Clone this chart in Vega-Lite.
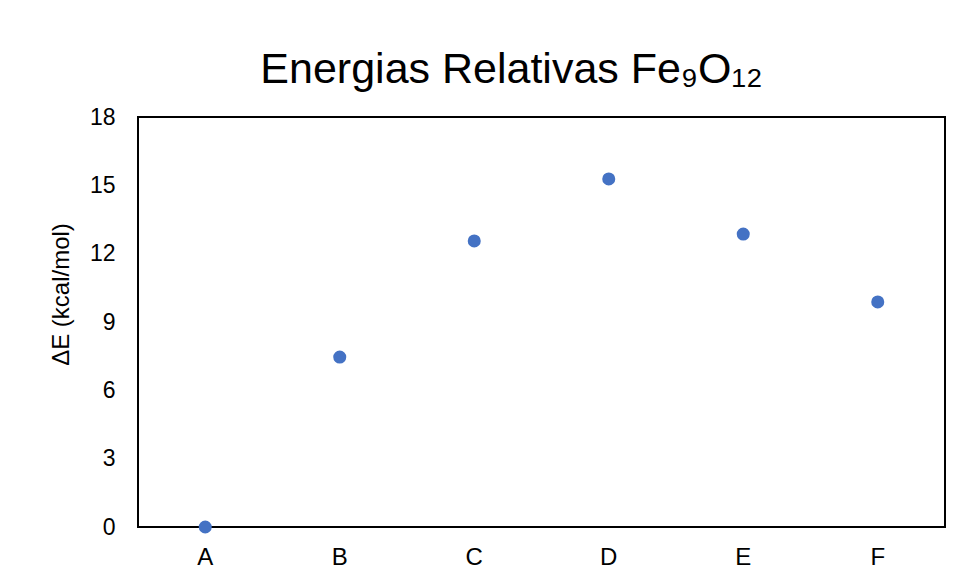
{
  "$schema": "https://vega.github.io/schema/vega-lite/v6.json",
  "autosize": {"type": "none"},
  "width": 807,
  "height": 410,
  "padding": {"left": 138, "top": 117, "right": 19, "bottom": 60},
  "background": "white",
  "title": {
    "text": "Energias  Relativas  Fe₉O₁₂",
    "font": "Liberation Sans",
    "fontSize": 43,
    "fontWeight": "normal",
    "color": "#000000",
    "anchor": "middle",
    "dx": -30,
    "offset": 14
  },
  "data": {
    "values": [
      {"estrutura": "A", "dE": 0},
      {"estrutura": "B", "dE": 7.46},
      {"estrutura": "C", "dE": 12.56},
      {"estrutura": "D", "dE": 15.28},
      {"estrutura": "E", "dE": 12.86},
      {"estrutura": "F", "dE": 9.88}
    ]
  },
  "mark": {"type": "point", "filled": true, "size": 170, "opacity": 1, "color": "#4472C4"},
  "encoding": {
    "x": {
      "field": "estrutura",
      "type": "nominal",
      "scale": {"type": "band", "paddingInner": 0, "paddingOuter": 0},
      "axis": {"title": null, "labelAngle": 0, "ticks": false, "domain": false, "labelPadding": 18, "labelFontSize": 24, "labelFont": "Liberation Sans", "labelColor": "#000000"}
    },
    "y": {
      "field": "dE",
      "type": "quantitative",
      "scale": {"domain": [0, 18], "nice": false},
      "axis": {
        "title": "ΔE (kcal/mol)",
        "values": [0, 3, 6, 9, 12, 15, 18],
        "grid": false,
        "ticks": false,
        "domain": false,
        "labelPadding": 23,
        "labelFontSize": 23,
        "labelFont": "Liberation Sans",
        "labelColor": "#000000",
        "titleFont": "Liberation Sans",
        "titleFontSize": 24,
        "titleFontWeight": "normal",
        "titleColor": "#000000",
        "titlePadding": 16,
        "titleY": 177
      }
    }
  },
  "config": {
    "view": {"stroke": "#000000", "strokeWidth": 2}
  }
}
